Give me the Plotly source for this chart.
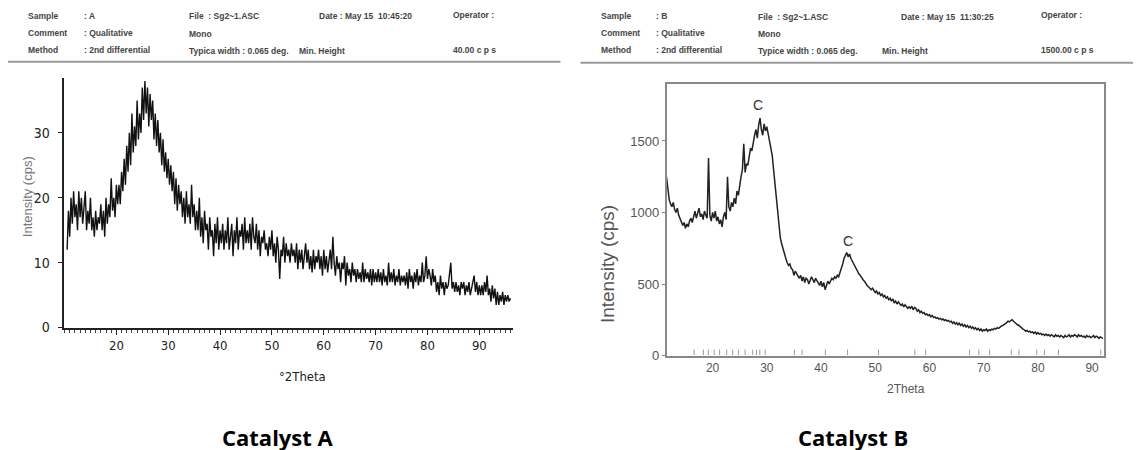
import numpy as np
import plotly.graph_objects as go

# ---------------- data ----------------
# Catalyst A : 2theta from 10.5 step 0.25
a_start, a_step = 10.5, 0.25
a_intensity = [
    12,18,14,20,16,21,17,19,15,21,17,20,16,19,21,15,18,16,20,15,
    17,14,18,15,17,16,19,15,18,14,20,16,19,17,23,18,20,17,22,19,
    22,19,24,21,26,22,28,24,30,25,33,27,31,28,35,29,33,30,37,32,
    38,33,37,31,36,32,35,29,33,28,32,27,30,25,29,24,27,23,26,22,
    25,21,24,19,23,18,22,19,21,17,20,16,21,17,19,16,22,17,19,15,
    18,15,20,14,17,13,18,15,16,12,17,14,15,11,16,13,17,12,15,13,
    16,12,15,13,17,12,14,16,11,15,13,17,12,15,14,16,12,17,13,15,
    13,16,12,17,14,13,16,12,15,11,14,13,15,12,13,11,14,12,15,11,
    13,10,14,12,7.5,12,11,14,10,13,11,12,10,13,11,12,10,13,9,12,
    10,12,9,11,13,10,12,9,11,8.5,12,9,11,10,12,9,11,8,12,9,
    11,8.5,10,12,9,14,10,8,11,9,10,7,10,9,11,6.5,10,8,9,7,
    10,8,9,7,9,7.5,8.5,7,10,7,9,7.5,8.5,7,9,6.5,9,7,8.5,7,
    9,7,8.5,6.5,9,7,8,6.5,10,7,8.5,7,9,6.5,8,7,9,6.5,8,7,
    8,6.5,8.5,6,9,7,8,6,8.5,7,9,6.5,8,7,10,7,8,11,7.5,9,
    8,6.5,9,7,8,5.5,7,5,8,6,7,5,7,6,6.5,8,10,6,7,5.5,
    7,5.5,6.5,5,7,6,7,5,6.5,5.5,7,5,6,7,8,5.5,7,5,6.5,5,
    6.5,5,7,5.5,8,5,6,4,6.5,4.5,6,3.5,5.5,3.5,5,4,5.5,3.5,5,4,
    5,4,4.5,
]

# Catalyst B : 2theta from 11.5 step 0.25
b_start, b_step = 11.5, 0.25
b_intensity = [
    1250,1180,1090,1060,1040,1070,1020,1000,1030,980,960,940,910,930,890,920,900,940,960,930,
    980,1010,960,1000,1030,970,990,950,1010,980,960,1380,980,940,1000,960,1010,940,970,920,
    950,900,970,1000,950,1250,1040,1010,1070,1040,1100,1060,1150,1120,1200,1250,1300,1480,1280,1340,
    1330,1400,1450,1430,1500,1540,1580,1520,1610,1660,1580,1540,1620,1570,1600,1550,1500,1450,1400,1300,
    1200,1100,1000,880,820,780,740,700,680,650,630,640,610,600,560,590,570,550,540,560,
    520,550,510,540,530,500,520,550,530,510,540,520,500,490,520,480,510,460,490,520,
    500,520,540,530,550,540,560,550,580,600,640,680,700,720,690,710,680,660,640,620,
    600,590,570,560,540,530,520,500,490,480,470,460,470,450,440,450,430,440,420,430,
    410,420,400,410,390,400,380,395,370,380,360,375,365,350,360,340,355,345,330,340,
    330,345,320,335,330,310,320,300,310,295,300,285,290,280,285,270,280,265,270,260,
    265,255,260,250,255,245,250,240,245,235,240,225,235,220,230,215,225,210,220,205,
    215,200,210,195,205,190,200,185,195,180,190,175,185,170,180,175,185,170,180,175,
    185,180,190,185,195,190,200,205,210,215,225,230,240,235,245,250,240,230,225,215,
    210,200,195,185,180,170,175,165,170,160,165,155,165,150,160,150,155,145,150,140,
    150,140,145,135,145,140,130,145,135,140,130,140,135,125,140,130,135,145,130,140,
    135,145,140,130,145,135,140,130,135,125,140,130,135,125,130,140,125,135,130,120,
    130,125,120,
]

b_peak_marks = [16.6,18.3,19.2,20.3,21.3,22.6,23.7,24.8,26.0,27.4,28.1,28.7,29.7,
                35.1,36.5,40.8,44.9,50.6,57.3,59.3,67.4,69.1,71.1,75.1,76.5,79.8,81.2,83.8,91.6]

b_labels = ["C", "C"]
b_label_x = [28.4, 44.9]
b_label_y = [1750, 800]

a_x_ticks = [20, 30, 40, 50, 60, 70, 80, 90]
a_y_ticks = [0, 10, 20, 30]
b_x_ticks = [20, 30, 40, 50, 60, 70, 80, 90]
b_y_ticks = [0, 500, 1000, 1500]

header_a = [
    ("Sample", 26, 15), (": A", 82, 15), ("File  : Sg2~1.ASC", 187, 15),
    ("Date : May 15  10:45:20", 317, 15), ("Operator :", 451, 14),
    ("Comment", 26, 32), (": Qualitative", 82, 32), ("Mono", 187, 33),
    ("Method", 26, 49), (": 2nd differential", 82, 49),
    ("Typica width : 0.065 deg.", 187, 50), ("Min. Height", 297, 50), ("40.00 c p s", 451, 49),
]
header_b = [
    ("Sample", 599, 15), (": B", 654, 15), ("File  : Sg2~1.ASC", 756, 16),
    ("Date : May 15  11:30:25", 899, 16), ("Operator :", 1039, 14),
    ("Comment", 599, 32), (": Qualitative", 654, 32), ("Mono", 756, 33),
    ("Method", 599, 49), (": 2nd differential", 654, 49),
    ("Typice width : 0.065 deg.", 756, 50), ("Min. Height", 880, 50), ("1500.00 c p s", 1039, 49),
]

# ---------------- figure ----------------
W, H = 1141, 450
OFF_X, OFF_Y, SCALE_Y = 7.5, 7.2, 0.983  # page placement compensation
a_x = a_start + a_step * np.arange(len(a_intensity))
b_x = b_start + b_step * np.arange(len(b_intensity))

fig = go.Figure()
fig.add_trace(go.Scatter(x=a_x, y=a_intensity, mode="lines",
                         line=dict(color="#111", width=1.4), xaxis="x", yaxis="y",
                         showlegend=False))
fig.add_trace(go.Scatter(x=b_x, y=b_intensity, mode="lines",
                         line=dict(color="#222", width=1.5), xaxis="x2", yaxis="y2",
                         showlegend=False))
fig.add_trace(go.Scatter(x=b_peak_marks, y=[22] * len(b_peak_marks), mode="markers",
                         marker=dict(symbol="line-ns", size=4, line=dict(color="#999", width=1)),
                         xaxis="x2", yaxis="y2", showlegend=False))


def px(x):
    return (x - OFF_X) / W


def py(y):
    return 1 - ((y - OFF_Y) / SCALE_Y) / H


narrow = "DejaVu Sans Condensed, Liberation Sans Narrow, Roboto Condensed, sans-serif"
arial = "Liberation Sans, Arial, sans-serif"

fig.update_layout(
    width=W, height=H, margin=dict(l=0, r=0, t=0, b=0),
    paper_bgcolor="white", plot_bgcolor="white",
    xaxis=dict(domain=[px(63), px(512)], range=[9.8, 96.4], tickvals=a_x_ticks,
               showline=True, linecolor="#222", linewidth=2, ticks="outside", ticklen=5,
               tickcolor="#222", minor=dict(dtick=1, ticks="outside", ticklen=3, tickcolor="#444"),
               showgrid=False, zeroline=False, anchor="y",
               tickfont=dict(family=narrow, size=13, color="#222")),
    yaxis=dict(domain=[py(327), py(77)], range=[0, 38.5], tickvals=a_y_ticks,
               showline=True, linecolor="#222", linewidth=2, ticks="outside", ticklen=4,
               tickcolor="#222", showgrid=False, zeroline=False, anchor="x",
               ticklabelstandoff=5,
               tickfont=dict(family=narrow, size=14, color="#222")),
    xaxis2=dict(domain=[px(666), px(1103)], range=[11.5, 92.1], tickvals=b_x_ticks,
                showline=True, mirror=True, linecolor="#888", linewidth=1.5,
                ticks="", showgrid=False, zeroline=False, anchor="y2",
                tickfont=dict(family=arial, size=12, color="#555")),
    yaxis2=dict(domain=[py(355), py(83)], range=[0, 1900], tickvals=b_y_ticks,
                showline=True, mirror=True, linecolor="#888", linewidth=1.5,
                ticks="outside", ticklen=3, tickcolor="#888", showgrid=False, zeroline=False,
                anchor="x2",
                tickfont=dict(family=arial, size=13, color="#555")),
)

ann = []
for t, x, y in header_a + header_b:
    ann.append(dict(text="<b>" + t + "</b>", x=px(x), y=py(y), xref="paper", yref="paper",
                    xanchor="left", yanchor="middle", showarrow=False, borderpad=0,
                    font=dict(family=arial, size=8.5, color="#444")))

for t, x, y in zip(b_labels, b_label_x, b_label_y):
    ann.append(dict(text=t, x=x, y=y, xref="x2", yref="y2", showarrow=False,
                    xanchor="center", yanchor="middle",
                    font=dict(family=arial, size=14, color="#333")))


def centered(text, x, y, size, color, family, angle=0):
    return dict(text=text, x=px(x), y=py(y), xref="paper", yref="paper", textangle=angle,
                xanchor="center", yanchor="middle", showarrow=False,
                font=dict(family=family, size=size, color=color))


ann += [
    centered("Intensity (cps)", 27, 196, 13, "#777", arial, -90),
    centered("°2Theta", 302, 376, 13, "#222", narrow),
    centered("Intensity (cps)", 607, 264, 19, "#555", arial, -90),
    centered("2Theta", 905, 389, 12, "#555", arial),
    centered("<b>Catalyst A</b>", 277, 437, 22, "#000", "Open Sans, Lato, sans-serif"),
    centered("<b>Catalyst B</b>", 852, 437, 22, "#000", "Open Sans, Lato, sans-serif"),
]
fig.update_layout(annotations=ann)

fig.update_layout(shapes=[
    dict(type="line", xref="paper", yref="paper", x0=px(7), x1=px(560), y0=py(61), y1=py(61),
         line=dict(color="#999", width=2)),
    dict(type="line", xref="paper", yref="paper", x0=px(580), x1=1, y0=py(62), y1=py(62),
         line=dict(color="#999", width=2)),
])

fig.write_html("out.html")
